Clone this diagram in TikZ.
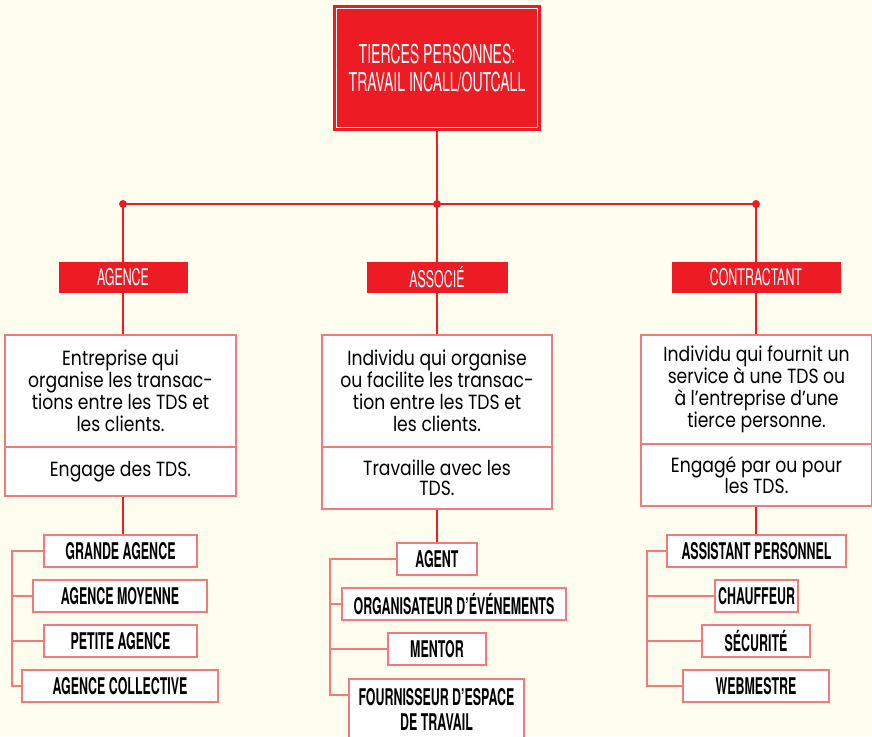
\documentclass[tikz,border=0pt]{standalone}
\usepackage{fontspec}
\setmainfont[FakeStretch=0.84]{Poppins}
\newfontfamily\condfont[FakeStretch=0.54]{TeX Gyre Heros}
\definecolor{bg}{HTML}{FFFDEE}
\definecolor{tdsred}{HTML}{ED1C24}
\definecolor{lightred}{HTML}{F07A7E}
\tikzset{
  conn/.style={draw=tdsred, line width=1.2pt},
  tree/.style={draw=lightred, line width=1.5pt},
  titlebox/.style={fill=tdsred, text=white, inner sep=0, minimum width=208, minimum height=126, align=center, font=\condfont\fontsize{26}{28}\selectfont},
  redlabel/.style={fill=tdsred, text=white, inner sep=0, minimum height=31, font=\condfont\fontsize{23}{24}\selectfont},
  descbox/.style={draw=lightred, fill=white, line width=1.3pt, inner sep=0, align=center, font=\fontsize{20.5}{22}\selectfont},
  subbox/.style={draw=lightred, fill=white, line width=1.5pt, inner sep=0, minimum height=32, align=center, font=\condfont\bfseries\fontsize{23}{25}\selectfont},
}
\begin{document}
\begin{tikzpicture}[x=1pt,y=-1pt]
\useasboundingbox[fill=bg] (0,0) rectangle (872,736);
% title
\node[titlebox] (title) at (437,68) {TIERCES PERSONNES:\\TRAVAIL INCALL/OUTCALL};
\draw[white, line width=0.9pt] ([shift={(4pt,-4pt)}]title.north west) rectangle ([shift={(-4pt,4pt)}]title.south east);
% junctions
\coordinate (j1) at (123,204);
\coordinate (j2) at (437,204);
\coordinate (j3) at (756,204);
\draw[conn] (title.south) -- (j2);
\draw[conn] (j1) -- (j3);
% labels
\node[redlabel, minimum width=129] (l1) at (123,277.5) {AGENCE};
\node[redlabel, minimum width=141] (l2) at (437,277.5) {ASSOCIÉ};
\node[redlabel, minimum width=169] (l3) at (756,277.5) {CONTRACTANT};
% description boxes
\node[descbox, minimum width=231, minimum height=112] (d1a) at (120.5,391) {Entreprise qui\\organise les transac-\\tions entre les TDS et\\les clients.};
\node[descbox, minimum width=231, minimum height=49] (d1b) at (120.5,471.5) {Engage des TDS.};
\node[descbox, minimum width=230, minimum height=112] (d2a) at (437,391) {Individu qui organise\\ou facilite les transac-\\tion entre les TDS et\\les clients.};
\node[descbox, minimum width=230, minimum height=62, font=\fontsize{20.5}{20}\selectfont] (d2b) at (437,478) {Travaille avec les\\TDS.};
\node[descbox, minimum width=231, minimum height=109] (d3a) at (756.5,389.5) {Individu qui fournit un\\service à une TDS ou\\à l’entreprise d’une\\tierce personne.};
\node[descbox, minimum width=231, minimum height=62, font=\fontsize{20.5}{20}\selectfont] (d3b) at (756.5,475) {Engagé par ou pour\\les TDS.};
% connectors down
\draw[conn] (j1) -- (l1.north);
\draw[conn] (j2) -- (l2.north);
\draw[conn] (j3) -- (l3.north);
\draw[conn] (l1.south) -- (l1.south |- d1a.north);
\draw[conn] (l2.south) -- (l2.south |- d2a.north);
\draw[conn] (l3.south) -- (l3.south |- d3a.north);
% sub boxes column 1
\node[subbox, minimum width=153] (c1a) at (120.5,551) {GRANDE AGENCE};
\node[subbox, minimum width=174] (c1b) at (120,596) {AGENCE MOYENNE};
\node[subbox, minimum width=153] (c1c) at (120.5,641) {PETITE AGENCE};
\node[subbox, minimum width=196] (c1d) at (120,686) {AGENCE COLLECTIVE};
% column 2
\node[subbox, minimum width=80] (c2a) at (437,559) {AGENT};
\node[subbox, minimum width=224] (c2b) at (454,604) {ORGANISATEUR D’ÉVÉNEMENTS};
\node[subbox, minimum width=98] (c2c) at (437,649) {MENTOR};
\node[subbox, minimum width=175, minimum height=62, anchor=north] (c2d) at (436.5,678) {FOURNISSEUR D’ESPACE\\DE TRAVAIL};
% column 3
\node[subbox, minimum width=179] (c3a) at (756.5,551) {ASSISTANT PERSONNEL};
\node[subbox, minimum width=83] (c3b) at (756.5,596) {CHAUFFEUR};
\node[subbox, minimum width=108] (c3c) at (756,641) {SÉCURITÉ};
\node[subbox, minimum width=146] (c3d) at (756,686) {WEBMESTRE};
% connectors to sub boxes
\draw[conn] (d1b.south -| j1) -- (c1a.north -| j1);
\draw[conn] (d2b.south -| j2) -- (c2a.north -| j2);
\draw[conn] (d3b.south -| j3) -- (c3a.north -| j3);
% trees
\coordinate (t1) at (12,551);
\coordinate (t1e) at (12,686);
\draw[tree] (c1a.west) -- (t1) -- (t1e) -- (c1d.west);
\draw[tree] (t1 |- c1b.west) -- (c1b.west);
\draw[tree] (t1 |- c1c.west) -- (c1c.west);
\coordinate (t2) at (330,559);
\coordinate (t2e) at (330,695);
\draw[tree] (c2a.west) -- (t2) -- (t2e) -- (t2e -| c2d.west);
\draw[tree] (t2 |- c2b.west) -- (c2b.west);
\draw[tree] (t2 |- c2c.west) -- (c2c.west);
\coordinate (t3) at (647,551);
\coordinate (t3e) at (647,686);
\draw[tree] (c3a.west) -- (t3) -- (t3e) -- (c3d.west);
\draw[tree] (t3 |- c3b.west) -- (c3b.west);
\draw[tree] (t3 |- c3c.west) -- (c3c.west);
% dots
\fill[tdsred] (j1) circle (4pt);
\fill[tdsred] (j2) circle (4pt);
\fill[tdsred] (j3) circle (4pt);
\end{tikzpicture}
\end{document}
